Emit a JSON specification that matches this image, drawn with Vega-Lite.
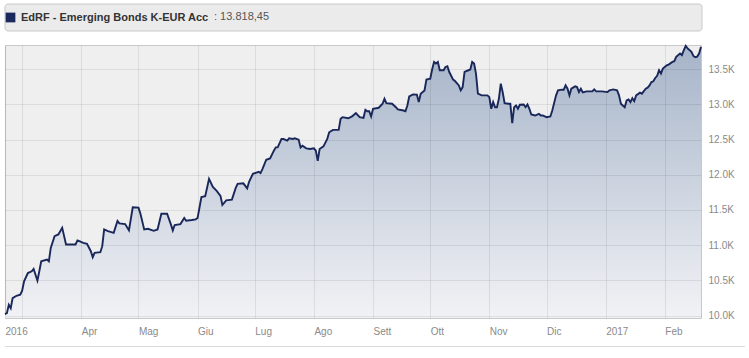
{
  "$schema": "https://vega.github.io/schema/vega-lite/v6.json",
  "padding": {"left": 0, "top": 3, "right": 0, "bottom": 0},
  "background": "white",
  "bounds": "flush",
  "spacing": 342,
  "config": {"font": "Liberation Sans", "view": {"stroke": null}},
  "vconcat": [
    {
      "bounds": "flush",
      "spacing": 14,
      "vconcat": [
        {
          "width": 697,
          "height": 27,
          "data": {"values": [{"series": "EdRF - Emerging Bonds K-EUR Acc"}]},
          "layer": [
            {
              "mark": {"type": "rect", "fill": "#ebebeb", "stroke": "#c9c9c9", "strokeWidth": 1, "cornerRadius": 3}
            },
            {
              "mark": {"type": "point", "shape": "square", "filled": true, "opacity": 0},
              "encoding": {
                "color": {
                  "field": "series",
                  "type": "nominal",
                  "scale": {"range": ["#1b2a5c"]},
                  "legend": {
                    "orient": "none",
                    "legendX": 0,
                    "legendY": 8,
                    "title": ": 13.818,45",
                    "titleOrient": "right",
                    "titleFontSize": 11,
                    "titleFontWeight": "normal",
                    "titleColor": "#555555",
                    "titlePadding": 5,
                    "titleBaseline": "middle",
                    "symbolType": "square",
                    "symbolSize": 95,
                    "symbolOpacity": 1,
                    "labelFontSize": 11,
                    "labelFontWeight": "bold",
                    "labelColor": "#333333",
                    "labelOffset": 5,
                    "labelLimit": 400,
                    "padding": 0,
                    "encode": {
                      "symbols": {"update": {"fill": {"value": "#1b2a5c"}, "stroke": {"value": "#1b2a5c"}, "strokeWidth": {"value": 0}, "opacity": {"value": 1}}}
                    }
                  }
                }
              }
            }
          ]
        },
        {
          "width": 696,
          "height": 273,
          "view": {"fill": "#efefef", "stroke": "#c8c8c8"},
          "data": {
            "format": {"parse": {"date": "date:'%Y-%m-%d'"}},
            "values": [
              {"date": "2016-02-21", "value": 10020},
              {"date": "2016-02-22", "value": 10033},
              {"date": "2016-02-23", "value": 10153},
              {"date": "2016-02-24", "value": 10104},
              {"date": "2016-02-25", "value": 10247},
              {"date": "2016-02-27", "value": 10281},
              {"date": "2016-02-29", "value": 10296},
              {"date": "2016-03-01", "value": 10353},
              {"date": "2016-03-02", "value": 10486},
              {"date": "2016-03-04", "value": 10604},
              {"date": "2016-03-06", "value": 10629},
              {"date": "2016-03-07", "value": 10661},
              {"date": "2016-03-09", "value": 10496},
              {"date": "2016-03-10", "value": 10629},
              {"date": "2016-03-11", "value": 10771},
              {"date": "2016-03-14", "value": 10796},
              {"date": "2016-03-15", "value": 10771},
              {"date": "2016-03-16", "value": 10961},
              {"date": "2016-03-18", "value": 11129},
              {"date": "2016-03-20", "value": 11153},
              {"date": "2016-03-22", "value": 11247},
              {"date": "2016-03-23", "value": 11129},
              {"date": "2016-03-24", "value": 11010},
              {"date": "2016-03-26", "value": 11010},
              {"date": "2016-03-29", "value": 11010},
              {"date": "2016-03-30", "value": 11067},
              {"date": "2016-03-31", "value": 11057},
              {"date": "2016-04-02", "value": 11033},
              {"date": "2016-04-04", "value": 11019},
              {"date": "2016-04-06", "value": 10914},
              {"date": "2016-04-07", "value": 10829},
              {"date": "2016-04-08", "value": 10890},
              {"date": "2016-04-11", "value": 10900},
              {"date": "2016-04-12", "value": 10986},
              {"date": "2016-04-13", "value": 11224},
              {"date": "2016-04-15", "value": 11200},
              {"date": "2016-04-18", "value": 11176},
              {"date": "2016-04-20", "value": 11343},
              {"date": "2016-04-21", "value": 11310},
              {"date": "2016-04-24", "value": 11300},
              {"date": "2016-04-26", "value": 11210},
              {"date": "2016-04-28", "value": 11539},
              {"date": "2016-05-01", "value": 11533},
              {"date": "2016-05-02", "value": 11450},
              {"date": "2016-05-04", "value": 11224},
              {"date": "2016-05-06", "value": 11233},
              {"date": "2016-05-09", "value": 11204},
              {"date": "2016-05-11", "value": 11224},
              {"date": "2016-05-13", "value": 11447},
              {"date": "2016-05-16", "value": 11447},
              {"date": "2016-05-18", "value": 11296},
              {"date": "2016-05-19", "value": 11210},
              {"date": "2016-05-20", "value": 11286},
              {"date": "2016-05-23", "value": 11300},
              {"date": "2016-05-25", "value": 11386},
              {"date": "2016-05-26", "value": 11347},
              {"date": "2016-05-29", "value": 11357},
              {"date": "2016-05-31", "value": 11367},
              {"date": "2016-06-01", "value": 11386},
              {"date": "2016-06-03", "value": 11683},
              {"date": "2016-06-05", "value": 11696},
              {"date": "2016-06-07", "value": 11943},
              {"date": "2016-06-09", "value": 11829},
              {"date": "2016-06-11", "value": 11771},
              {"date": "2016-06-13", "value": 11700},
              {"date": "2016-06-14", "value": 11571},
              {"date": "2016-06-16", "value": 11636},
              {"date": "2016-06-19", "value": 11647},
              {"date": "2016-06-21", "value": 11814},
              {"date": "2016-06-22", "value": 11871},
              {"date": "2016-06-25", "value": 11879},
              {"date": "2016-06-27", "value": 11807},
              {"date": "2016-06-28", "value": 11900},
              {"date": "2016-06-30", "value": 12014},
              {"date": "2016-07-03", "value": 12043},
              {"date": "2016-07-04", "value": 12024},
              {"date": "2016-07-05", "value": 12081},
              {"date": "2016-07-07", "value": 12214},
              {"date": "2016-07-09", "value": 12233},
              {"date": "2016-07-11", "value": 12343},
              {"date": "2016-07-12", "value": 12390},
              {"date": "2016-07-13", "value": 12390},
              {"date": "2016-07-15", "value": 12510},
              {"date": "2016-07-16", "value": 12510},
              {"date": "2016-07-18", "value": 12486},
              {"date": "2016-07-19", "value": 12519},
              {"date": "2016-07-21", "value": 12510},
              {"date": "2016-07-22", "value": 12519},
              {"date": "2016-07-24", "value": 12500},
              {"date": "2016-07-25", "value": 12390},
              {"date": "2016-07-26", "value": 12414},
              {"date": "2016-07-28", "value": 12376},
              {"date": "2016-07-30", "value": 12367},
              {"date": "2016-08-01", "value": 12376},
              {"date": "2016-08-02", "value": 12343},
              {"date": "2016-08-03", "value": 12200},
              {"date": "2016-08-04", "value": 12367},
              {"date": "2016-08-06", "value": 12404},
              {"date": "2016-08-08", "value": 12510},
              {"date": "2016-08-09", "value": 12604},
              {"date": "2016-08-11", "value": 12639},
              {"date": "2016-08-14", "value": 12639},
              {"date": "2016-08-15", "value": 12796},
              {"date": "2016-08-16", "value": 12819},
              {"date": "2016-08-19", "value": 12804},
              {"date": "2016-08-21", "value": 12829},
              {"date": "2016-08-22", "value": 12853},
              {"date": "2016-08-23", "value": 12876},
              {"date": "2016-08-25", "value": 12819},
              {"date": "2016-08-27", "value": 12810},
              {"date": "2016-08-28", "value": 12924},
              {"date": "2016-08-29", "value": 12904},
              {"date": "2016-08-30", "value": 12904},
              {"date": "2016-08-31", "value": 12829},
              {"date": "2016-09-01", "value": 12939},
              {"date": "2016-09-04", "value": 12953},
              {"date": "2016-09-06", "value": 13010},
              {"date": "2016-09-07", "value": 13081},
              {"date": "2016-09-08", "value": 13019},
              {"date": "2016-09-11", "value": 13010},
              {"date": "2016-09-13", "value": 12961},
              {"date": "2016-09-14", "value": 12929},
              {"date": "2016-09-17", "value": 12914},
              {"date": "2016-09-18", "value": 12904},
              {"date": "2016-09-19", "value": 12986},
              {"date": "2016-09-20", "value": 13114},
              {"date": "2016-09-22", "value": 13143},
              {"date": "2016-09-24", "value": 13139},
              {"date": "2016-09-25", "value": 13033},
              {"date": "2016-09-26", "value": 13153},
              {"date": "2016-09-28", "value": 13200},
              {"date": "2016-09-29", "value": 13353},
              {"date": "2016-10-01", "value": 13367},
              {"date": "2016-10-02", "value": 13496},
              {"date": "2016-10-03", "value": 13604},
              {"date": "2016-10-04", "value": 13581},
              {"date": "2016-10-05", "value": 13604},
              {"date": "2016-10-06", "value": 13486},
              {"date": "2016-10-08", "value": 13486},
              {"date": "2016-10-09", "value": 13533},
              {"date": "2016-10-10", "value": 13543},
              {"date": "2016-10-11", "value": 13461},
              {"date": "2016-10-13", "value": 13353},
              {"date": "2016-10-14", "value": 13333},
              {"date": "2016-10-16", "value": 13271},
              {"date": "2016-10-17", "value": 13200},
              {"date": "2016-10-18", "value": 13247},
              {"date": "2016-10-19", "value": 13464},
              {"date": "2016-10-21", "value": 13486},
              {"date": "2016-10-22", "value": 13496},
              {"date": "2016-10-23", "value": 13604},
              {"date": "2016-10-24", "value": 13581},
              {"date": "2016-10-25", "value": 13439},
              {"date": "2016-10-26", "value": 13153},
              {"date": "2016-10-28", "value": 13129},
              {"date": "2016-10-31", "value": 13129},
              {"date": "2016-11-01", "value": 13104},
              {"date": "2016-11-02", "value": 12939},
              {"date": "2016-11-03", "value": 13033},
              {"date": "2016-11-04", "value": 12961},
              {"date": "2016-11-05", "value": 12961},
              {"date": "2016-11-06", "value": 13081},
              {"date": "2016-11-07", "value": 13296},
              {"date": "2016-11-08", "value": 13176},
              {"date": "2016-11-09", "value": 13019},
              {"date": "2016-11-11", "value": 13010},
              {"date": "2016-11-12", "value": 13010},
              {"date": "2016-11-13", "value": 12733},
              {"date": "2016-11-14", "value": 12961},
              {"date": "2016-11-15", "value": 12986},
              {"date": "2016-11-16", "value": 12939},
              {"date": "2016-11-17", "value": 12996},
              {"date": "2016-11-19", "value": 13000},
              {"date": "2016-11-20", "value": 12961},
              {"date": "2016-11-21", "value": 13000},
              {"date": "2016-11-22", "value": 12939},
              {"date": "2016-11-23", "value": 12857},
              {"date": "2016-11-25", "value": 12843},
              {"date": "2016-11-27", "value": 12867},
              {"date": "2016-11-28", "value": 12843},
              {"date": "2016-11-29", "value": 12843},
              {"date": "2016-12-01", "value": 12819},
              {"date": "2016-12-03", "value": 12829},
              {"date": "2016-12-04", "value": 12914},
              {"date": "2016-12-06", "value": 13129},
              {"date": "2016-12-07", "value": 13200},
              {"date": "2016-12-09", "value": 13210},
              {"date": "2016-12-10", "value": 13210},
              {"date": "2016-12-11", "value": 13271},
              {"date": "2016-12-12", "value": 13224},
              {"date": "2016-12-13", "value": 13129},
              {"date": "2016-12-14", "value": 13224},
              {"date": "2016-12-16", "value": 13257},
              {"date": "2016-12-17", "value": 13247},
              {"date": "2016-12-18", "value": 13176},
              {"date": "2016-12-19", "value": 13224},
              {"date": "2016-12-20", "value": 13171},
              {"date": "2016-12-22", "value": 13186},
              {"date": "2016-12-25", "value": 13186},
              {"date": "2016-12-26", "value": 13214},
              {"date": "2016-12-27", "value": 13186},
              {"date": "2016-12-30", "value": 13186},
              {"date": "2017-01-02", "value": 13176},
              {"date": "2017-01-03", "value": 13200},
              {"date": "2017-01-05", "value": 13214},
              {"date": "2017-01-07", "value": 13200},
              {"date": "2017-01-08", "value": 13129},
              {"date": "2017-01-09", "value": 13010},
              {"date": "2017-01-10", "value": 12986},
              {"date": "2017-01-11", "value": 12961},
              {"date": "2017-01-12", "value": 13057},
              {"date": "2017-01-13", "value": 13071},
              {"date": "2017-01-14", "value": 13033},
              {"date": "2017-01-15", "value": 13090},
              {"date": "2017-01-16", "value": 13047},
              {"date": "2017-01-17", "value": 13129},
              {"date": "2017-01-19", "value": 13167},
              {"date": "2017-01-20", "value": 13153},
              {"date": "2017-01-22", "value": 13224},
              {"date": "2017-01-23", "value": 13239},
              {"date": "2017-01-24", "value": 13271},
              {"date": "2017-01-25", "value": 13319},
              {"date": "2017-01-26", "value": 13329},
              {"date": "2017-01-27", "value": 13376},
              {"date": "2017-01-28", "value": 13407},
              {"date": "2017-01-29", "value": 13486},
              {"date": "2017-01-30", "value": 13439},
              {"date": "2017-01-31", "value": 13510},
              {"date": "2017-02-02", "value": 13557},
              {"date": "2017-02-03", "value": 13567},
              {"date": "2017-02-05", "value": 13604},
              {"date": "2017-02-06", "value": 13614},
              {"date": "2017-02-07", "value": 13676},
              {"date": "2017-02-09", "value": 13724},
              {"date": "2017-02-10", "value": 13700},
              {"date": "2017-02-11", "value": 13771},
              {"date": "2017-02-12", "value": 13833},
              {"date": "2017-02-13", "value": 13796},
              {"date": "2017-02-15", "value": 13747},
              {"date": "2017-02-16", "value": 13690},
              {"date": "2017-02-17", "value": 13671},
              {"date": "2017-02-18", "value": 13680},
              {"date": "2017-02-19", "value": 13724},
              {"date": "2017-02-20", "value": 13818.45}
            ]
          },
          "encoding": {
            "x": {
              "field": "date",
              "type": "temporal",
              "title": null,
              "scale": {"domain": [{"year": 2016, "month": 2, "date": 21}, {"year": 2017, "month": 2, "date": 20}]},
              "axis": {
                "values": [
                  {"year": 2016, "month": 2, "date": 21},
                  {"year": 2016, "month": 3, "date": 1},
                  {"year": 2016, "month": 4, "date": 1},
                  {"year": 2016, "month": 5, "date": 1},
                  {"year": 2016, "month": 6, "date": 1},
                  {"year": 2016, "month": 7, "date": 1},
                  {"year": 2016, "month": 8, "date": 1},
                  {"year": 2016, "month": 9, "date": 1},
                  {"year": 2016, "month": 10, "date": 1},
                  {"year": 2016, "month": 11, "date": 1},
                  {"year": 2016, "month": 12, "date": 1},
                  {"year": 2017, "month": 1, "date": 1},
                  {"year": 2017, "month": 2, "date": 1}
                ],
                "labelExpr": "date(datum.value) == 21 ? '2016' : ['2017','Feb','','Apr','Mag','Giu','Lug','Ago','Sett','Ott','Nov','Dic'][month(datum.value)]",
                "labelAlign": "left",
                "labelPadding": 8,
                "labelFontSize": 10,
                "labelColor": "#8a8a8a",
                "labelOverlap": false,
                "labelFlush": false,
                "ticks": false,
                "domain": false,
                "grid": true,
                "gridColor": "#000000",
                "gridOpacity": 0.08,
                "zindex": 1
              }
            },
            "y": {
              "field": "value",
              "type": "quantitative",
              "title": null,
              "scale": {"domain": [9965, 13845], "nice": false, "zero": false},
              "axis": {
                "orient": "right",
                "values": [10000, 10500, 11000, 11500, 12000, 12500, 13000, 13500],
                "labelExpr": "format(datum.value / 1000, '.1f') + 'K'",
                "labelPadding": 7,
                "labelFontSize": 10,
                "labelColor": "#8a8a8a",
                "ticks": false,
                "domain": false,
                "grid": true,
                "gridColor": "#000000",
                "gridOpacity": 0.08,
                "zindex": 1
              }
            }
          },
          "layer": [
            {
              "mark": {
                "type": "area",
                "color": {
                  "gradient": "linear",
                  "x1": 0, "y1": 0, "x2": 0, "y2": 1,
                  "stops": [
                    {"offset": 0, "color": "#a6b4c9"},
                    {"offset": 1, "color": "#f1f2f5"}
                  ]
                }
              },
              "encoding": {"y2": {"datum": 9965}}
            },
            {
              "mark": {"type": "line", "strokeWidth": 1.9, "color": "#19275a", "interpolate": "linear"}
            }
          ]
        }
      ]
    },
    {
      "width": 740,
      "height": 1,
      "data": {"values": [{"box": "footer"}]},
      "layer": [
        {"mark": {"type": "rect", "fill": "#dcdcdc"}}
      ]
    }
  ]
}
